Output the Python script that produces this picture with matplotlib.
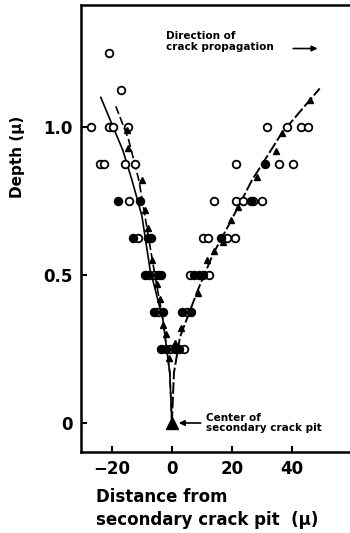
import matplotlib
matplotlib.use("Agg")
import matplotlib.pyplot as plt

plt.rcParams['font.family'] = ['DejaVu Sans']
plt.rcParams['font.weight'] = 'bold'

# Open circles (distance, depth)
open_x = [-21, -17,
          -27, -21, -19.5, -14.7, 31.7, 38.3, 43, 45.3,
          -24, -22.5, -15.7, -12.3, 21.3, 35.7, 40.3,
          -14.3, 14, 21.3, 23.7, 27, 30,
          -11.3, 10.5, 12, 18.5, 21,
          -6, 6, 12.5,
          -4.5, 5,
          -0.5, 4]
open_y = [1.25, 1.125,
          1.0, 1.0, 1.0, 1.0, 1.0, 1.0, 1.0, 1.0,
          0.875, 0.875, 0.875, 0.875, 0.875, 0.875, 0.875,
          0.75, 0.75, 0.75, 0.75, 0.75, 0.75,
          0.625, 0.625, 0.625, 0.625, 0.625,
          0.5, 0.5, 0.5,
          0.375, 0.375,
          0.25, 0.25]

# Filled circles
fill_x = [31, -18, -10.7, 26.3, -13, -8, -7, 16.5,
          -9, -7.5, -4.5, -3.5, 7.5, 9, 10.5,
          -6, -3, 3.5, 6.5,
          -3.5, -2, 1, 2.5]
fill_y = [0.875, 0.75, 0.75, 0.75, 0.625, 0.625, 0.625, 0.625,
          0.5, 0.5, 0.5, 0.5, 0.5, 0.5, 0.5,
          0.375, 0.375, 0.375, 0.375,
          0.25, 0.25, 0.25, 0.25]

# Triangles
tri_x = [-15, -14.5, -10, -9, -8, -6.5, -5, -4, -3, -2, -1,
         1, 3, 8.7, 11.7, 14, 17, 19.7, 22, 28.3, 34.7, 36.7, 46]
tri_y = [0.99, 0.93, 0.82, 0.72, 0.66, 0.55, 0.47, 0.42, 0.33, 0.3, 0.22,
         0.27, 0.32, 0.44, 0.55, 0.58, 0.61, 0.686, 0.73, 0.83, 0.92, 0.98, 1.09]

# Fitted lines
left_solid_x = [-23.7, -16.3, -13.3, -10, -7.3, -3, -0.7, 0]
left_solid_y = [1.1, 0.92, 0.82, 0.7, 0.52, 0.35, 0.17, 0]
left_dash_x = [-18.7, -14.5, -11, -9, -6, -3, -0.7, 0]
left_dash_y = [1.07, 0.96, 0.82, 0.7, 0.52, 0.35, 0.17, 0]
right_x = [0, 0.7, 2.7, 8.7, 13.7, 19.3, 26.7, 36.7, 49.3]
right_y = [0, 0.17, 0.29, 0.45, 0.57, 0.675, 0.82, 0.98, 1.13]

xticks = [-20, 0, 20, 40]
yticks = [0, 0.5, 1.0]
ytick_labels = ['0', '0.5', '1.0']

fig = plt.figure(figsize=(3.5, 5.33), dpi=100)
ax = fig.add_axes([81/350, 1-452/533, 1-81/350 + 0.03, 447/533])

ax.plot(left_solid_x, left_solid_y, color='black', lw=1.2, zorder=2)
ax.plot(left_dash_x, left_dash_y, color='black', lw=1.2, ls=(0, (5, 2)), zorder=2)
ax.plot(right_x, right_y, color='black', lw=1.4, ls=(0, (6, 1.5)), zorder=2)

ax.plot(open_x, open_y, 'o', ms=5.5, mfc='white', mec='black', mew=1.3, zorder=3)
ax.plot(fill_x, fill_y, 'o', ms=5.5, mfc='black', mec='black', mew=1.3, zorder=4)
ax.plot(tri_x, tri_y, '^', ms=4.5, mfc='black', mec='black', zorder=4)
ax.plot([0], [0], '^', ms=8, mfc='black', mec='black', zorder=5)

ax.set_xlim(-30.3, 59.4 + 0.03 * 350 / 3)
ax.set_ylim(-0.098, 1.412)
ax.set_xticks(xticks)
ax.set_xticklabels([str(t).replace('-', '\u2212') for t in xticks], fontsize=12, fontweight='bold')
ax.set_yticks(yticks)
ax.set_yticklabels(ytick_labels, fontsize=12, fontweight='bold')
ax.tick_params(direction='in', length=4, width=1.5, pad=6)
for s in ['left', 'bottom', 'top']:
    ax.spines[s].set_linewidth(1.8)
ax.spines['right'].set_visible(False)

fig.text(18/350, 1-157/533, 'Depth (\u03bc)', rotation=90, ha='center', va='center',
         fontsize=11, fontweight='bold')
fig.text(96/350, 1-497/533, 'Distance from', ha='left', va='center', fontsize=12, fontweight='bold')
fig.text(96/350, 1-520/533, 'secondary crack pit  (\u03bc)', ha='left', va='center',
         fontsize=12, fontweight='bold')

ax.text(-1.8, 1.29, 'Direction of\ncrack propagation', ha='left', va='center',
        fontsize=7.5, fontweight='bold', linespacing=1.1)
ax.annotate('', xy=(49.5, 1.265), xytext=(39.5, 1.265),
            arrowprops=dict(arrowstyle='-|>', color='black', lw=1.2, mutation_scale=8))
ax.annotate('Center of\nsecondary crack pit', xy=(2.3, 0), xytext=(11.5, 0),
            ha='left', va='center', fontsize=7.5, fontweight='bold', linespacing=1.1,
            arrowprops=dict(arrowstyle='-|>', color='black', lw=1.2, mutation_scale=8,
                            shrinkA=2, shrinkB=0))

fig.savefig('out.png', dpi=100)
